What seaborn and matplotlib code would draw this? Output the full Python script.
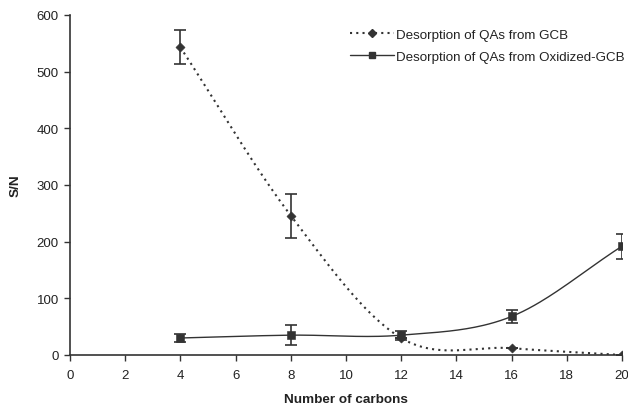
import numpy as np
import pandas as pd
import matplotlib
matplotlib.use("Agg")
import matplotlib.pyplot as plt
import seaborn as sns
from matplotlib.lines import Line2D

carbons = [4, 8, 12, 16, 20]
gcb = [543, 246, 30, 12, 0]
gcb_err = [30, 39, 0, 0, 0]
oxi = [30, 35, 35, 68, 192]
oxi_err = [7, 18, 8, 12, 22]
xticks = list(range(0, 21, 2))
yticks = list(range(0, 601, 100))

sns.set_theme(style="white")
plt.rcParams['font.family'] = ['Liberation Sans', 'DejaVu Sans']

def smooth(x, y, n=40):
    x = np.asarray(x, float); y = np.asarray(y, float)
    px = np.concatenate([[2*x[0]-x[1]], x, [2*x[-1]-x[-2]]])
    py = np.concatenate([[2*y[0]-y[1]], y, [2*y[-1]-y[-2]]])
    xs, ys = [], []
    t = np.linspace(0, 1, n)
    for i in range(1, len(px)-2):
        p0, p1, p2, p3 = [np.array([px[j], py[j]]) for j in range(i-1, i+3)]
        m1 = (p2 - p0) / 2
        m2 = (p3 - p1) / 2
        h00 = 2*t**3 - 3*t**2 + 1
        h10 = t**3 - 2*t**2 + t
        h01 = -2*t**3 + 3*t**2
        h11 = t**3 - t**2
        pts = (np.outer(h00, p1) + np.outer(h10, m1) + np.outer(h01, p2) + np.outer(h11, m2))
        xs.extend(pts[:, 0]); ys.extend(pts[:, 1])
    return np.array(xs), np.array(ys)

fig = plt.figure(figsize=(6.28, 4.06), dpi=100)
ax = fig.add_axes([70/628, 50/406, 552/628, 340/406])
col = '#333333'

sx, sy = smooth(carbons, gcb)
ax.plot(sx, sy, linestyle=(0, (1, 2)), color=col, lw=1.5)
sx, sy = smooth(carbons, oxi)
ax.plot(sx, sy, linestyle='-', color=col, lw=1.0)

df1 = pd.DataFrame({'x': carbons, 'y': gcb})
df2 = pd.DataFrame({'x': carbons, 'y': oxi})
ax.errorbar(carbons, gcb, yerr=gcb_err, fmt='none', ecolor=col, elinewidth=1.2, capsize=4, capthick=1.2)
ax.errorbar(carbons, oxi, yerr=oxi_err, fmt='none', ecolor=col, elinewidth=1.2, capsize=4, capthick=1.2)
sns.scatterplot(data=df1, x='x', y='y', marker='D', s=22, color=col, edgecolor=col, ax=ax, zorder=5)
sns.scatterplot(data=df2, x='x', y='y', marker='s', s=28, color=col, edgecolor=col, ax=ax, zorder=5)

ax.set_xlim(0, 20)
ax.set_ylim(0, 600)
ax.set_xticks(xticks)
ax.set_yticks(yticks)
ax.tick_params(axis='both', direction='out', length=4, width=1, color=col, labelsize=9.5,
               labelcolor='#222222', bottom=True, left=True)
ax.tick_params(axis='x', pad=6)
ax.tick_params(axis='y', pad=4)
for s in ['top', 'right']:
    ax.spines[s].set_visible(False)
for s in ['left', 'bottom']:
    ax.spines[s].set_color(col)
    ax.spines[s].set_linewidth(1.2)
ax.set_xlabel('Number of carbons', fontsize=9.7, fontweight='bold', color='#222222', labelpad=9)
ax.set_ylabel('S/N', fontsize=9.7, fontweight='bold', color='#222222', labelpad=11)

handles = [
    Line2D([], [], color=col, linestyle=(0, (1, 2)), lw=1.5, marker='D', markersize=4),
    Line2D([], [], color=col, linestyle='-', lw=1.0, marker='s', markersize=5),
]
ax.legend(handles, ['Desorption of QAs from GCB', 'Desorption of QAs from Oxidized-GCB'],
          loc='upper left', bbox_to_anchor=(0.507, 0.96), frameon=False, fontsize=9.6,
          borderpad=0, borderaxespad=0,
          labelspacing=0.7, handlelength=3.3, handletextpad=0.15, labelcolor='#222222')

fig.savefig('out.png', dpi=100)
